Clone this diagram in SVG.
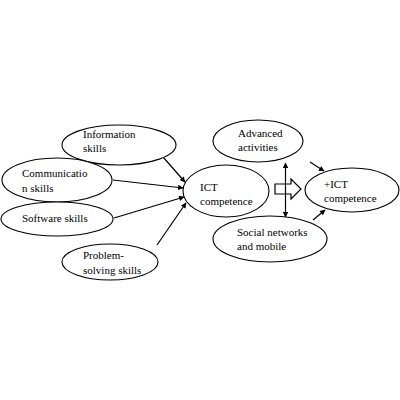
<svg xmlns="http://www.w3.org/2000/svg" width="400" height="400" viewBox="0 0 400 400">
<style>
.n{fill:#fff;stroke:#000;stroke-width:1.1}
.t{font-family:"Liberation Serif","Times New Roman",serif;font-size:11px;fill:#000}
.c{stroke:#000;stroke-width:1.2;fill:none}
</style>
<defs>
<marker id="ah" viewBox="0 0 10 10" refX="9" refY="5" markerWidth="6" markerHeight="5.5" orient="auto-start-reverse" markerUnits="userSpaceOnUse">
<path d="M0,0 L10,5 L0,10 z" fill="#000"/>
</marker>
</defs>
<rect width="400" height="400" fill="#fff"/>
<g id="connectors">
<line class="c" x1="163" y1="157" x2="185" y2="182" marker-end="url(#ah)"/>
<line class="c" x1="113" y1="180" x2="183" y2="188" marker-end="url(#ah)"/>
<line class="c" x1="114" y1="218" x2="184" y2="197" marker-end="url(#ah)"/>
<line class="c" x1="157" y1="245" x2="186" y2="203" marker-end="url(#ah)"/>
<line class="c" x1="310" y1="162" x2="324" y2="171" marker-end="url(#ah)"/>
<line class="c" x1="313" y1="220" x2="325" y2="210" marker-end="url(#ah)"/>
<line class="c" x1="285.5" y1="163" x2="285.5" y2="217" marker-start="url(#ah)" marker-end="url(#ah)"/>
<path class="c" d="M275,184 L291,184 L291,179 L301,189 L291,199 L291,194 L275,194 Z" stroke-width="1"/>
</g>
<g id="information"><ellipse class="n" cx="119" cy="145" rx="57" ry="20"/><text class="t" x="83" y="138">Information</text><text class="t" x="83" y="152">skills</text></g>
<g id="communication"><ellipse class="n" cx="57" cy="180" rx="55" ry="22"/><text class="t" x="22" y="177">Communicatio</text><text class="t" x="22" y="192">n skills</text></g>
<g id="software"><ellipse class="n" cx="57" cy="219" rx="56" ry="17"/><text class="t" x="22" y="222">Software skills</text></g>
<g id="problem"><ellipse class="n" cx="110" cy="262" rx="48" ry="18"/><text class="t" x="83" y="259">Problem-</text><text class="t" x="83" y="274">solving skills</text></g>
<g id="ict"><ellipse class="n" cx="226" cy="191" rx="43" ry="26"/><text class="t" x="200" y="191">ICT</text><text class="t" x="200" y="205">competence</text></g>
<g id="advanced"><ellipse class="n" cx="258" cy="141" rx="45" ry="21"/><text class="t" x="238" y="137">Advanced</text><text class="t" x="238" y="151">activities</text></g>
<g id="plusict"><ellipse class="n" cx="352" cy="190" rx="47" ry="22"/><text class="t" x="324" y="188">+ICT</text><text class="t" x="324" y="202">competence</text></g>
<g id="social"><ellipse class="n" cx="270" cy="239" rx="57" ry="23"/><text class="t" x="237" y="236">Social networks</text><text class="t" x="237" y="250">and mobile</text></g>
</svg>
